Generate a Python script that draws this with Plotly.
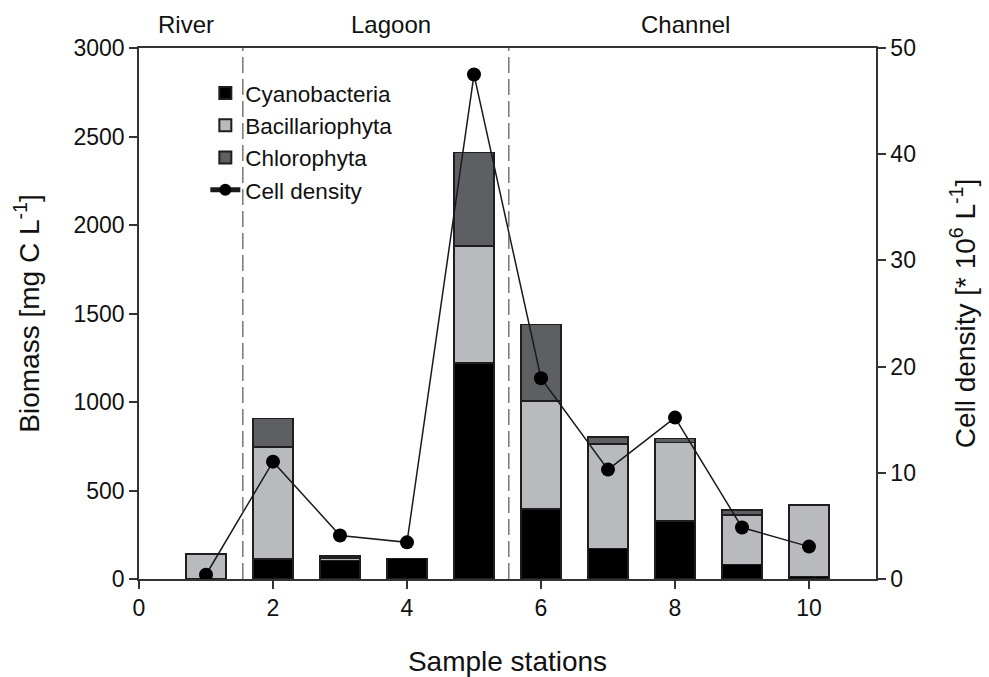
import plotly.graph_objects as go

stations = [1, 2, 3, 4, 5, 6, 7, 8, 9, 10]
cyanobacteria = [0, 113, 105, 117, 1220, 395, 173, 329, 83, 15]
bacillariophyta = [140, 633, 15, 0, 660, 612, 590, 443, 279, 403]
chlorophyta = [0, 162, 10, 0, 530, 430, 40, 21, 28, 0]
cell_density = [0.4, 11.05, 4.1, 3.45, 47.5, 18.9, 10.3, 15.2, 4.85, 3.05]
region_names = ["River", "Lagoon", "Channel"]
region_label_x = [0.70, 3.76, 8.15]
region_bounds = [1.55, 5.52]

FONT = "Liberation Sans, Arial, sans-serif"
edge = dict(color="#1e1e1e", width=1.5)

fig = go.Figure()
fig.add_trace(go.Bar(x=stations, y=cyanobacteria, name="Cyanobacteria", width=0.6,
                     marker=dict(color="#000000", line=edge)))
fig.add_trace(go.Bar(x=stations, y=bacillariophyta, name="Bacillariophyta", width=0.6,
                     marker=dict(color="#b9babe", line=edge)))
fig.add_trace(go.Bar(x=stations, y=chlorophyta, name="Chlorophyta", width=0.6,
                     marker=dict(color="#5e5f62", line=edge)))
fig.add_trace(go.Scatter(x=stations, y=cell_density, name="Cell density", yaxis="y2",
                         mode="lines+markers", line=dict(color="#1a1a1a", width=1.5),
                         marker=dict(color="#000000", size=14)))

for xb in region_bounds:
    fig.add_shape(type="line", xref="x", yref="paper", x0=xb, x1=xb, y0=0, y1=1,
                  line=dict(color="#555555", width=1.2, dash="16px,6px"))

for name, xl in zip(region_names, region_label_x):
    fig.add_annotation(x=xl, xref="x", y=1.0, yref="paper", yshift=8, text=name,
                       showarrow=False, yanchor="bottom",
                       font=dict(family=FONT, size=24, color="#111"))

fig.update_layout(
    barmode="stack",
    width=989, height=677,
    margin=dict(l=139, r=113, t=48, b=98),
    plot_bgcolor="white", paper_bgcolor="white",
    font=dict(family=FONT, size=23, color="#111"),
    showlegend=True,
    legend=dict(x=0.09, y=0.955, xanchor="left", yanchor="top", traceorder="normal",
                font=dict(family=FONT, size=22.5, color="#111"),
                bgcolor="rgba(0,0,0,0)", tracegroupgap=0, itemsizing="constant"),
    xaxis=dict(range=[0, 11], tickvals=[0, 2, 4, 6, 8, 10], ticks="outside",
               ticklen=8, tickwidth=1.5, tickcolor="#333", showline=True, automargin=False,
               linecolor="#333", linewidth=1.5, mirror=True, showgrid=False, zeroline=False,
               title=dict(text="Sample stations", font=dict(family=FONT, size=28), standoff=31),
               tickfont=dict(size=23)),
    yaxis=dict(range=[0, 3000], tickvals=[0, 500, 1000, 1500, 2000, 2500, 3000],
               ticks="outside", ticklen=8, tickwidth=1.5, tickcolor="#333", automargin=False,
               showline=True, linecolor="#333", linewidth=1.5, showgrid=False, zeroline=False,
               title=dict(text="Biomass [mg C L<sup>-1</sup>]", font=dict(family=FONT, size=28),
                          standoff=26),
               tickfont=dict(size=23)),
    yaxis2=dict(range=[0, 50], tickvals=[0, 10, 20, 30, 40, 50], overlaying="y",
                side="right", ticks="outside", ticklen=8, tickwidth=1.5, tickcolor="#333",
                automargin=False,
                showline=True, linecolor="#333", linewidth=1.5, showgrid=False, zeroline=False,
                title=dict(text="Cell density [* 10<sup>6</sup> L<sup>-1</sup>]",
                           font=dict(family=FONT, size=28), standoff=40),
                tickfont=dict(size=23)),
)

fig.write_html("out.html")
